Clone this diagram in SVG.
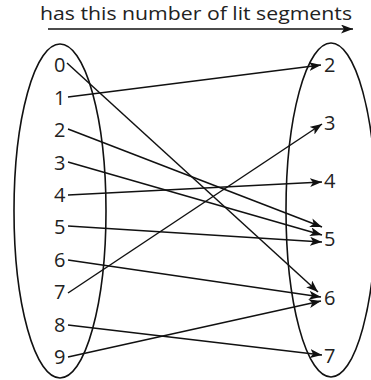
<svg xmlns="http://www.w3.org/2000/svg" width="371" height="380" viewBox="0 0 371 380">
<defs>
<marker id="ah" markerWidth="13" markerHeight="10" refX="12" refY="4.5" orient="auto" markerUnits="userSpaceOnUse">
<path d="M0,0 L12,4.5 L0,9 L3,4.5 Z" fill="#111"/>
</marker>
</defs>
<style>
.t{font-family:"Open Sans","Liberation Sans",sans-serif;font-size:20px;fill:#222}
.tt{font-family:"Open Sans","Liberation Sans",sans-serif;font-size:19px;fill:#222}
.set{fill:none;stroke:#111;stroke-width:1.6}
.e{stroke:#111;stroke-width:1.5;fill:none;marker-end:url(#ah)}
</style>
<rect width="371" height="380" fill="#fff"/>
<g id="title">
<text class="tt" x="40" y="19.5" textLength="312" lengthAdjust="spacingAndGlyphs">has this number of lit segments</text>
<line class="e" x1="48" y1="29" x2="353" y2="29"/>
</g>
<g id="domain">
<ellipse class="set" cx="60" cy="211" rx="46" ry="167"/>
<text class="t" x="54" y="72">0</text>
<text class="t" x="54" y="104.5">1</text>
<text class="t" x="54" y="137">2</text>
<text class="t" x="54" y="169.5">3</text>
<text class="t" x="54" y="202">4</text>
<text class="t" x="54" y="234">5</text>
<text class="t" x="54" y="266.5">6</text>
<text class="t" x="54" y="299">7</text>
<text class="t" x="54" y="331.5">8</text>
<text class="t" x="54" y="364">9</text>
</g>
<g id="codomain">
<ellipse class="set" cx="331" cy="210" rx="45" ry="167"/>
<text class="t" x="324" y="72">2</text>
<text class="t" x="324" y="130">3</text>
<text class="t" x="324" y="188">4</text>
<text class="t" x="324" y="246">5</text>
<text class="t" x="324" y="305">6</text>
<text class="t" x="324" y="363">7</text>
</g>
<g id="connectors">
<line class="e" x1="67" y1="63" x2="318" y2="292"/>
<line class="e" x1="68" y1="97" x2="321" y2="65"/>
<line class="e" x1="68" y1="129" x2="322" y2="227"/>
<line class="e" x1="68" y1="162" x2="322" y2="235"/>
<line class="e" x1="68" y1="195" x2="322" y2="182"/>
<line class="e" x1="68" y1="226" x2="322" y2="242"/>
<line class="e" x1="68" y1="260" x2="321" y2="297"/>
<line class="e" x1="68" y1="293" x2="322" y2="124"/>
<line class="e" x1="68" y1="325" x2="322" y2="355"/>
<line class="e" x1="68" y1="357" x2="321" y2="301"/>
</g>
</svg>
